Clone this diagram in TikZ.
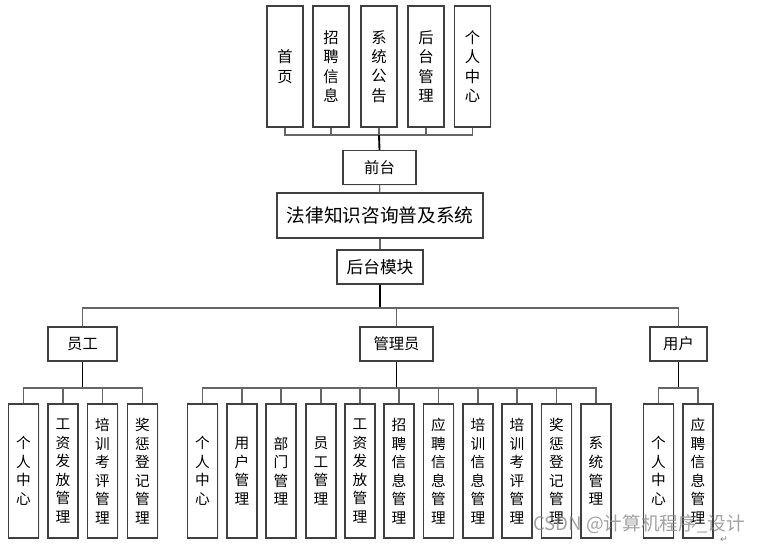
\documentclass[tikz,border=0pt]{standalone}
\usepackage{fontspec}
\setmainfont{Noto Sans CJK SC}
\newfontfamily\symfont{DejaVu Sans}
\usepackage{tikz}
\usetikzlibrary{positioning,shadows}

\begin{document}
\begin{tikzpicture}[x=0.75pt,y=-0.75pt,
        box/.style={rectangle,draw=black!75,line width=0.8pt,fill=white,inner sep=0pt,align=center,
            drop shadow={opacity=0.12,shadow xshift=1pt,shadow yshift=-1pt}},
        topbox/.style={box,minimum width=27pt,minimum height=90.75pt,font=\fontsize{11.5}{14.5}\selectfont},
        leafbox/.style={box,minimum width=22.5pt,minimum height=100.5pt,font=\fontsize{11}{13.9}\selectfont},
        midbox/.style={box,minimum height=25.5pt,font=\fontsize{11.5}{14}\selectfont},
        conn/.style={draw=black!60,line width=0.8pt},
        trunk/.style={draw=black,line width=1.4pt}]
        \useasboundingbox (0,0) rectangle (766,546);
        \node[topbox] (home) at (285,66.5) {首\\页};
        \node[topbox] (recruit) at (331,66.5) {招\\聘\\信\\息};
        \node[topbox] (notice) at (379,66.5) {系\\统\\公\\告};
        \node[topbox] (backend) at (426,66.5) {后\\台\\管\\理};
        \node[topbox] (center) at (472.5,66.5) {个\\人\\中\\心};
        \coordinate (topbus) at (379,135);
        \node[midbox,minimum width=54.75pt] (front) at (379.5,167.5) {前台};
        \node[midbox,minimum width=154.5pt,minimum height=33.75pt,font=\fontsize{14}{16}\selectfont] (sys) at (380,215.5) {法律知识咨询普及系统};
        \node[midbox,minimum width=64.5pt,font=\fontsize{12.5}{14}\selectfont] (back) at (380,267) {后台模块};
        \coordinate (mainbus) at (380,308);
        \node[midbox,minimum width=51.75pt] (staff) at (82.5,344) {员工};
        \node[midbox,minimum width=54.75pt] (admin) at (396.5,344) {管理员};
        \node[midbox,minimum width=42.75pt] (user) at (678.5,344) {用户};
        \coordinate (staffbus) at (82.5,388);
        \coordinate (adminbus) at (396.5,388);
        \coordinate (userbus) at (678.5,388);
        \node[leafbox] (s1) at (23.5,471) {个\\人\\中\\心};
        \node[leafbox] (s2) at (63,471) {工\\资\\发\\放\\管\\理};
        \node[leafbox] (s3) at (102.5,471) {培\\训\\考\\评\\管\\理};
        \node[leafbox] (s4) at (142.5,471) {奖\\惩\\登\\记\\管\\理};
        \node[leafbox] (a1) at (202.5,471) {个\\人\\中\\心};
        \node[leafbox] (a2) at (242,471) {用\\户\\管\\理};
        \node[leafbox] (a3) at (281,471) {部\\门\\管\\理};
        \node[leafbox] (a4) at (321,471) {员\\工\\管\\理};
        \node[leafbox] (a5) at (360,471) {工\\资\\发\\放\\管\\理};
        \node[leafbox] (a6) at (399,471) {招\\聘\\信\\息\\管\\理};
        \node[leafbox] (a7) at (438.5,471) {应\\聘\\信\\息\\管\\理};
        \node[leafbox] (a8) at (478,471) {培\\训\\信\\息\\管\\理};
        \node[leafbox] (a9) at (517,471) {培\\训\\考\\评\\管\\理};
        \node[leafbox] (a10) at (556.5,471) {奖\\惩\\登\\记\\管\\理};
        \node[leafbox] (a11) at (596,471) {系\\统\\管\\理};
        \node[leafbox] (u1) at (658.5,471) {个\\人\\中\\心};
        \node[leafbox] (u2) at (698,471) {应\\聘\\信\\息\\管\\理};
        \draw[conn] (home.south) |- (topbus);
        \draw[conn] (recruit.south) |- (topbus);
        \draw[conn] (notice.south) -- (topbus);
        \draw[conn] (backend.south) |- (topbus);
        \draw[conn] (center.south) |- (topbus);
        \draw[trunk] (topbus) -- (front.north);
        \draw[conn] (front) -- (sys);
        \draw[conn] (sys) -- (back);
        \draw[trunk] (back) -- (mainbus);
        \draw[conn] (mainbus) -| (staff.north);
        \draw[conn] (mainbus) -| (admin.north);
        \draw[conn] (mainbus) -| (user.north);
        \draw[trunk] (staff) -- (staffbus);
        \draw[trunk] (admin) -- (adminbus);
        \draw[trunk] (user) -- (userbus);
        \draw[conn] (staffbus) -| (s1.north);
        \draw[conn] (staffbus) -| (s2.north);
        \draw[conn] (staffbus) -| (s3.north);
        \draw[conn] (staffbus) -| (s4.north);
        \draw[conn] (adminbus) -| (a1.north);
        \draw[conn] (adminbus) -| (a2.north);
        \draw[conn] (adminbus) -| (a3.north);
        \draw[conn] (adminbus) -| (a4.north);
        \draw[conn] (adminbus) -| (a5.north);
        \draw[conn] (adminbus) -| (a6.north);
        \draw[conn] (adminbus) -| (a7.north);
        \draw[conn] (adminbus) -| (a8.north);
        \draw[conn] (adminbus) -| (a9.north);
        \draw[conn] (adminbus) -| (a10.north);
        \draw[conn] (adminbus) -| (a11.north);
        \draw[conn] (userbus) -| (u1.north);
        \draw[conn] (userbus) -| (u2.north);
        \node[text=black!45,opacity=0.8,font=\fontsize{14}{16}\selectfont] (mark) at (639,524) {CSDN @计算机程序\_设计};
        \node[text=black!50,font=\symfont\fontsize{7}{8}\selectfont] (ret) at (724,540) {↵};
    \end{tikzpicture}
\end{document}
